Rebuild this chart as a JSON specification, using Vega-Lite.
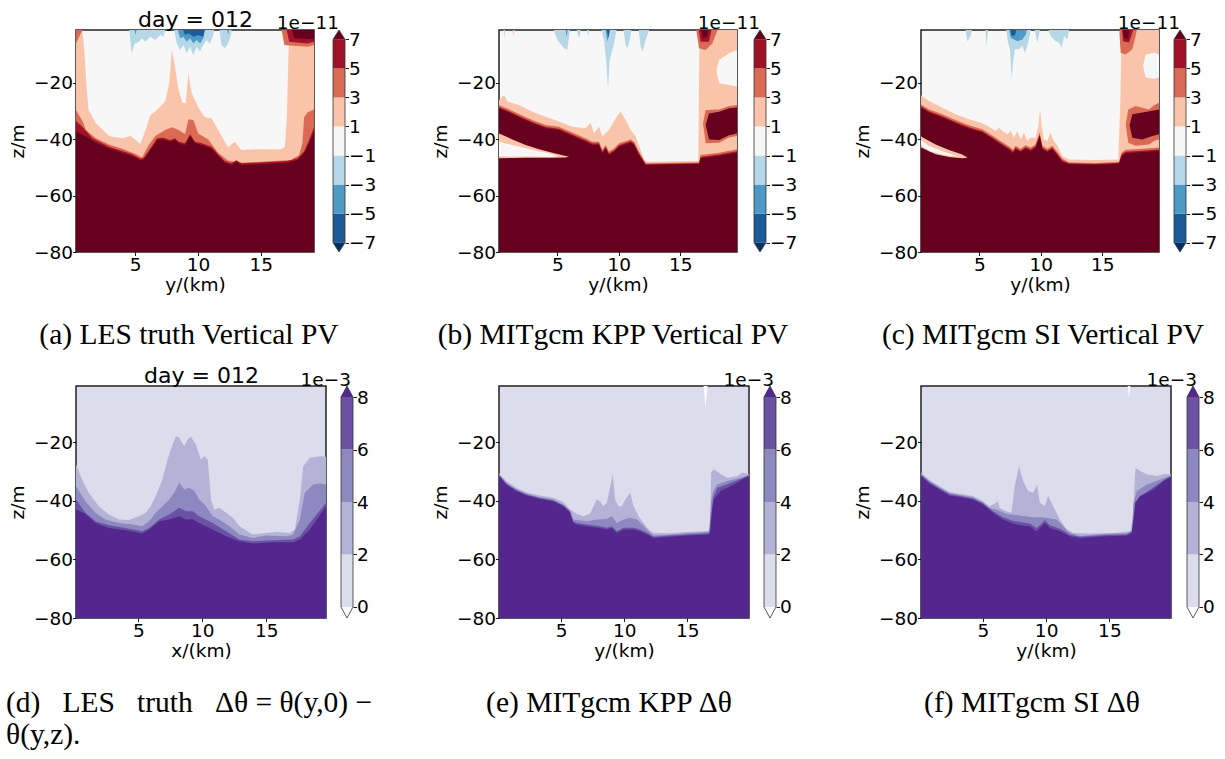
{
"$schema":"https://vega.github.io/schema/vega-lite/v6.json",
"background":"white",
"padding":{"left":5,"top":7,"right":5,"bottom":5},
"datasets":{
"A":[
{"k":"c1","x":0.29,"z":0},{"k":"c1","x":0.76,"z":0},{"k":"c1","x":0.95,"z":-8.4},{"k":"c1","x":1.13,"z":-21.4},{"k":"c1","x":1.29,"z":-29.7},{"k":"c1","x":1.87,"z":-34.4},{"k":"c1","x":2.92,"z":-38.9},{"k":"c1","x":3.97,"z":-39.7},{"k":"c1","x":4.63,"z":-38.9},{"k":"c1","x":5.03,"z":-40.3},{"k":"c1","x":5.42,"z":-41.7},{"k":"c1","x":5.82,"z":-36.8},{"k":"c1","x":6.21,"z":-31.5},{"k":"c1","x":6.74,"z":-29.7},{"k":"c1","x":7.39,"z":-26.7},{"k":"c1","x":7.71,"z":-20.2},{"k":"c1","x":7.92,"z":-8.4},{"k":"c1","x":8.13,"z":-13.2},{"k":"c1","x":8.45,"z":-22.6},{"k":"c1","x":8.76,"z":-27.1},{"k":"c1","x":9.02,"z":-27.3},{"k":"c1","x":9.24,"z":-16.7},{"k":"c1","x":9.5,"z":-23.8},{"k":"c1","x":10.02,"z":-28.7},{"k":"c1","x":10.55,"z":-32.3},{"k":"c1","x":11.08,"z":-32.6},{"k":"c1","x":11.6,"z":-36.8},{"k":"c1","x":12.39,"z":-42.9},{"k":"c1","x":12.92,"z":-40.9},{"k":"c1","x":13.45,"z":-43.9},{"k":"c1","x":14.76,"z":-43.6},{"k":"c1","x":16.6,"z":-43.6},{"k":"c1","x":16.92,"z":-42.7},{"k":"c1","x":17.08,"z":-30.9},{"k":"c1","x":17.18,"z":-13.2},{"k":"c1","x":17.26,"z":0},{"k":"c1","x":19.23,"z":0},
{"k":"c3","x":0.29,"z":-29.7},{"k":"c3","x":0.82,"z":-33.8},{"k":"c3","x":1.08,"z":-36.8},{"k":"c3","x":1.87,"z":-39.7},{"k":"c3","x":2.92,"z":-41.9},{"k":"c3","x":3.97,"z":-43.4},{"k":"c3","x":5.03,"z":-45.3},{"k":"c3","x":5.55,"z":-46.5},{"k":"c3","x":6.08,"z":-42.1},{"k":"c3","x":6.6,"z":-38.9},{"k":"c3","x":7.39,"z":-36.8},{"k":"c3","x":7.92,"z":-35.8},{"k":"c3","x":8.45,"z":-36.8},{"k":"c3","x":8.97,"z":-38.2},{"k":"c3","x":9.24,"z":-33.0},{"k":"c3","x":9.63,"z":-33.2},{"k":"c3","x":10.02,"z":-38.0},{"k":"c3","x":10.81,"z":-40.1},{"k":"c3","x":11.6,"z":-44.8},{"k":"c3","x":12.39,"z":-47.6},{"k":"c3","x":13.45,"z":-48.4},{"k":"c3","x":16.08,"z":-47.8},{"k":"c3","x":17.39,"z":-47.4},{"k":"c3","x":18.05,"z":-45.6},{"k":"c3","x":18.31,"z":-41.5},{"k":"c3","x":18.44,"z":-32.3},{"k":"c3","x":18.71,"z":-30.6},{"k":"c3","x":19.23,"z":-29.5},
{"k":"c5","x":0.29,"z":-33.5},{"k":"c5","x":0.82,"z":-35.8},{"k":"c5","x":1.61,"z":-39.7},{"k":"c5","x":2.92,"z":-42.7},{"k":"c5","x":3.97,"z":-44.2},{"k":"c5","x":4.76,"z":-45.4},{"k":"c5","x":5.42,"z":-47.0},{"k":"c5","x":5.68,"z":-46.6},{"k":"c5","x":6.21,"z":-43.3},{"k":"c5","x":6.74,"z":-39.7},{"k":"c5","x":7.26,"z":-39.5},{"k":"c5","x":7.79,"z":-40.3},{"k":"c5","x":8.18,"z":-39.7},{"k":"c5","x":8.45,"z":-40.9},{"k":"c5","x":8.97,"z":-41.5},{"k":"c5","x":9.37,"z":-38.3},{"k":"c5","x":9.76,"z":-40.9},{"k":"c5","x":10.29,"z":-41.5},{"k":"c5","x":11.08,"z":-42.7},{"k":"c5","x":11.6,"z":-45.4},{"k":"c5","x":12.13,"z":-47.8},{"k":"c5","x":12.66,"z":-48.6},{"k":"c5","x":13.05,"z":-47.5},{"k":"c5","x":13.45,"z":-48.6},{"k":"c5","x":14.5,"z":-48.4},{"k":"c5","x":16.08,"z":-48.0},{"k":"c5","x":17.13,"z":-47.8},{"k":"c5","x":17.92,"z":-46.8},{"k":"c5","x":18.44,"z":-44.4},{"k":"c5","x":18.84,"z":-40.3},{"k":"c5","x":19.23,"z":-35.8},
{"k":"c7","x":0.29,"z":-37.4},{"k":"c7","x":1.08,"z":-39.1},{"k":"c7","x":1.87,"z":-41.3},{"k":"c7","x":2.92,"z":-43.3},{"k":"c7","x":3.97,"z":-44.8},{"k":"c7","x":4.76,"z":-46.0},{"k":"c7","x":5.42,"z":-47.6},{"k":"c7","x":5.68,"z":-47.2},{"k":"c7","x":6.21,"z":-43.9},{"k":"c7","x":6.74,"z":-40.3},{"k":"c7","x":7.26,"z":-40.1},{"k":"c7","x":7.79,"z":-40.9},{"k":"c7","x":8.18,"z":-40.3},{"k":"c7","x":8.45,"z":-41.5},{"k":"c7","x":8.97,"z":-42.1},{"k":"c7","x":9.37,"z":-38.9},{"k":"c7","x":9.76,"z":-41.5},{"k":"c7","x":10.29,"z":-42.1},{"k":"c7","x":11.08,"z":-43.3},{"k":"c7","x":11.6,"z":-46.0},{"k":"c7","x":12.13,"z":-48.4},{"k":"c7","x":12.66,"z":-49.2},{"k":"c7","x":13.05,"z":-48.1},{"k":"c7","x":13.45,"z":-49.2},{"k":"c7","x":14.5,"z":-49.0},{"k":"c7","x":16.08,"z":-48.6},{"k":"c7","x":17.13,"z":-48.4},{"k":"c7","x":17.92,"z":-47.4},{"k":"c7","x":18.44,"z":-45.0},{"k":"c7","x":18.84,"z":-41.5},{"k":"c7","x":19.23,"z":-37.4},
{"k":"t3","x":0.29,"z":-6.1},{"k":"t3","x":0.95,"z":0},{"k":"t3","x":16.6,"z":0},{"k":"t3","x":16.87,"z":-6.7},{"k":"t3","x":18.71,"z":-7.3},{"k":"t3","x":19.23,"z":-6.7},
{"k":"t5","x":16.99,"z":0},{"k":"t5","x":17.26,"z":-5.5},{"k":"t5","x":18.71,"z":-6.1},{"k":"t5","x":19.23,"z":-5.5},
{"k":"t7","x":17.39,"z":0},{"k":"t7","x":17.66,"z":-4.3},{"k":"t7","x":19.23,"z":-4.6},
{"k":"tb1","x":4.5,"z":0},{"k":"tb1","x":4.71,"z":-9.6},{"k":"tb1","x":4.97,"z":-6.1},{"k":"tb1","x":5.29,"z":-5.5},{"k":"tb1","x":5.55,"z":-4.3},{"k":"tb1","x":5.82,"z":-5.5},{"k":"tb1","x":6.21,"z":-3.7},{"k":"tb1","x":6.6,"z":-4.9},{"k":"tb1","x":7.0,"z":-3.1},{"k":"tb1","x":7.26,"z":-3.7},{"k":"tb1","x":7.45,"z":0},{"k":"tb1","x":8.05,"z":0},{"k":"tb1","x":8.31,"z":-6.1},{"k":"tb1","x":8.58,"z":-8.4},{"k":"tb1","x":8.84,"z":-6.7},{"k":"tb1","x":9.1,"z":-9.6},{"k":"tb1","x":9.37,"z":-7.3},{"k":"tb1","x":9.63,"z":-10.2},{"k":"tb1","x":9.89,"z":-7.3},{"k":"tb1","x":10.16,"z":-9.0},{"k":"tb1","x":10.42,"z":-6.7},{"k":"tb1","x":10.68,"z":-4.9},{"k":"tb1","x":10.95,"z":-6.1},{"k":"tb1","x":11.21,"z":-3.1},{"k":"tb1","x":11.34,"z":0},{"k":"tb1","x":11.66,"z":0},{"k":"tb1","x":11.87,"z":-6.7},{"k":"tb1","x":12.13,"z":-7.8},{"k":"tb1","x":12.39,"z":-6.1},{"k":"tb1","x":12.6,"z":-3.7},{"k":"tb1","x":12.71,"z":0},
{"k":"tb3","x":4.89,"z":0},{"k":"tb3","x":5.03,"z":-3.1},{"k":"tb3","x":5.16,"z":0},{"k":"tb3","x":8.31,"z":0},{"k":"tb3","x":8.58,"z":-4.3},{"k":"tb3","x":8.84,"z":-3.7},{"k":"tb3","x":9.1,"z":-5.5},{"k":"tb3","x":9.37,"z":-4.3},{"k":"tb3","x":9.63,"z":-6.1},{"k":"tb3","x":9.89,"z":-4.9},{"k":"tb3","x":10.16,"z":-6.1},{"k":"tb3","x":10.42,"z":-4.3},{"k":"tb3","x":10.6,"z":0},{"k":"tb3","x":12.26,"z":0},{"k":"tb3","x":12.39,"z":-3.1},{"k":"tb3","x":12.52,"z":0},
{"k":"tb5","x":8.71,"z":0},{"k":"tb5","x":8.97,"z":-3.1},{"k":"tb5","x":9.24,"z":-2.5},{"k":"tb5","x":9.63,"z":-3.7},{"k":"tb5","x":10.02,"z":-3.1},{"k":"tb5","x":10.42,"z":-3.7},{"k":"tb5","x":10.6,"z":0}
],
"B":[
{"k":"c1","x":0.25,"z":-26.2},{"k":"c1","x":0.66,"z":-24.4},{"k":"c1","x":0.93,"z":-26.7},{"k":"c1","x":1.88,"z":-27.9},{"k":"c1","x":2.96,"z":-30.3},{"k":"c1","x":4.05,"z":-32.1},{"k":"c1","x":5.13,"z":-33.8},{"k":"c1","x":6.22,"z":-35.6},{"k":"c1","x":7.3,"z":-36.2},{"k":"c1","x":7.71,"z":-34.2},{"k":"c1","x":7.98,"z":-38.0},{"k":"c1","x":8.39,"z":-35.6},{"k":"c1","x":8.66,"z":-39.1},{"k":"c1","x":9.2,"z":-36.8},{"k":"c1","x":9.75,"z":-32.6},{"k":"c1","x":10.15,"z":-30.3},{"k":"c1","x":10.56,"z":-33.2},{"k":"c1","x":10.97,"z":-36.8},{"k":"c1","x":11.37,"z":-39.1},{"k":"c1","x":11.78,"z":-43.9},{"k":"c1","x":12.05,"z":-47.4},{"k":"c1","x":12.32,"z":-48.0},{"k":"c1","x":16.47,"z":-47.8},{"k":"c1","x":16.53,"z":-19.1},{"k":"c1","x":16.58,"z":0},{"k":"c1","x":19.62,"z":0},
{"k":"c3","x":0.25,"z":-27.9},{"k":"c3","x":1.06,"z":-29.4},{"k":"c3","x":1.88,"z":-31.1},{"k":"c3","x":2.96,"z":-33.2},{"k":"c3","x":4.05,"z":-35.0},{"k":"c3","x":5.13,"z":-35.6},{"k":"c3","x":6.22,"z":-37.7},{"k":"c3","x":7.3,"z":-39.7},{"k":"c3","x":7.85,"z":-40.9},{"k":"c3","x":8.39,"z":-40.9},{"k":"c3","x":8.66,"z":-43.8},{"k":"c3","x":8.93,"z":-42.1},{"k":"c3","x":9.2,"z":-44.4},{"k":"c3","x":9.61,"z":-43.3},{"k":"c3","x":10.02,"z":-41.5},{"k":"c3","x":10.42,"z":-40.9},{"k":"c3","x":10.97,"z":-40.1},{"k":"c3","x":11.24,"z":-40.9},{"k":"c3","x":11.64,"z":-44.4},{"k":"c3","x":12.19,"z":-48.6},{"k":"c3","x":16.53,"z":-48.3},{"k":"c3","x":16.66,"z":-45.6},{"k":"c3","x":18.16,"z":-44.8},{"k":"c3","x":19.62,"z":-43.6},
{"k":"c5","x":0.25,"z":-28.6},{"k":"c5","x":1.06,"z":-30.1},{"k":"c5","x":1.88,"z":-31.8},{"k":"c5","x":2.96,"z":-33.9},{"k":"c5","x":4.05,"z":-35.7},{"k":"c5","x":5.13,"z":-36.3},{"k":"c5","x":6.22,"z":-38.4},{"k":"c5","x":7.3,"z":-40.4},{"k":"c5","x":7.85,"z":-41.6},{"k":"c5","x":8.39,"z":-41.6},{"k":"c5","x":8.66,"z":-44.5},{"k":"c5","x":8.93,"z":-42.8},{"k":"c5","x":9.2,"z":-45.1},{"k":"c5","x":9.61,"z":-44.0},{"k":"c5","x":10.02,"z":-42.2},{"k":"c5","x":10.42,"z":-41.6},{"k":"c5","x":10.97,"z":-40.8},{"k":"c5","x":11.24,"z":-41.6},{"k":"c5","x":11.64,"z":-45.1},{"k":"c5","x":12.19,"z":-48.9},{"k":"c5","x":16.53,"z":-48.6},{"k":"c5","x":16.66,"z":-46.3},{"k":"c5","x":18.16,"z":-45.5},{"k":"c5","x":19.62,"z":-44.3},
{"k":"c7","x":0.25,"z":-29.1},{"k":"c7","x":1.06,"z":-30.6},{"k":"c7","x":1.88,"z":-32.3},{"k":"c7","x":2.96,"z":-34.4},{"k":"c7","x":4.05,"z":-36.2},{"k":"c7","x":5.13,"z":-36.8},{"k":"c7","x":6.22,"z":-38.9},{"k":"c7","x":7.3,"z":-40.9},{"k":"c7","x":7.85,"z":-42.1},{"k":"c7","x":8.39,"z":-42.1},{"k":"c7","x":8.66,"z":-45.0},{"k":"c7","x":8.93,"z":-43.3},{"k":"c7","x":9.2,"z":-45.6},{"k":"c7","x":9.61,"z":-44.5},{"k":"c7","x":10.02,"z":-42.7},{"k":"c7","x":10.42,"z":-42.1},{"k":"c7","x":10.97,"z":-41.3},{"k":"c7","x":11.24,"z":-42.1},{"k":"c7","x":11.64,"z":-45.6},{"k":"c7","x":12.19,"z":-49.2},{"k":"c7","x":16.53,"z":-48.8},{"k":"c7","x":16.66,"z":-46.8},{"k":"c7","x":18.16,"z":-46.0},{"k":"c7","x":19.62,"z":-44.8},
{"k":"L1","x":0.25,"z":-46.8,"z2":-38.0},{"k":"L1","x":1.34,"z":-46.7,"z2":-40.1},{"k":"L1","x":2.42,"z":-46.6,"z2":-42.1},{"k":"L1","x":3.51,"z":-46.6,"z2":-43.6},{"k":"L1","x":4.59,"z":-46.6,"z2":-44.8},{"k":"L1","x":5.68,"z":-46.5,"z2":-46.0},{"k":"L1","x":5.95,"z":-46.2,"z2":-46.2},
{"k":"W","x":0.25,"z":-46.0,"z2":-40.9},{"k":"W","x":1.34,"z":-46.2,"z2":-42.1},{"k":"W","x":2.96,"z":-46.2,"z2":-43.9},{"k":"W","x":4.32,"z":-46.3,"z2":-45.0},{"k":"W","x":5.0,"z":-46.1,"z2":-46.0},
{"k":"R3","x":16.85,"z":-34.4,"z2":-34.4},{"k":"R3","x":17.07,"z":-41.5,"z2":-29.7},{"k":"R3","x":18.16,"z":-41.3,"z2":-29.5},{"k":"R3","x":18.97,"z":-39.4,"z2":-28.3},{"k":"R3","x":19.62,"z":-38.9,"z2":-27.9},
{"k":"R7","x":17.07,"z":-35.0,"z2":-35.0},{"k":"R7","x":17.34,"z":-40.1,"z2":-30.9},{"k":"R7","x":18.16,"z":-40.3,"z2":-30.3},{"k":"R7","x":18.97,"z":-38.6,"z2":-29.1},{"k":"R7","x":19.62,"z":-38.0,"z2":-28.8},
{"k":"W2","x":17.94,"z":-15.5,"z2":-15.5},{"k":"W2","x":18.16,"z":-20.2,"z2":-12.0},{"k":"W2","x":18.97,"z":-20.8,"z2":-9.6},{"k":"W2","x":19.62,"z":-21.4,"z2":-8.4},
{"k":"t1","x":0.58,"z":0},{"k":"t1","x":0.68,"z":-4.3},{"k":"t1","x":0.79,"z":0},{"k":"t1","x":1.34,"z":0},{"k":"t1","x":1.44,"z":-3.7},{"k":"t1","x":1.55,"z":0},
{"k":"t3","x":16.26,"z":0},{"k":"t3","x":16.53,"z":-7.8},{"k":"t3","x":17.07,"z":-8.4},{"k":"t3","x":17.61,"z":-6.1},{"k":"t3","x":18.16,"z":0},
{"k":"t5","x":16.47,"z":0},{"k":"t5","x":16.66,"z":-5.5},{"k":"t5","x":17.34,"z":-5.5},{"k":"t5","x":17.61,"z":0},
{"k":"t7","x":16.66,"z":0},{"k":"t7","x":16.85,"z":-4.3},{"k":"t7","x":17.21,"z":-3.7},{"k":"t7","x":17.34,"z":0},
{"k":"tb1","x":4.59,"z":0},{"k":"tb1","x":5.0,"z":-4.9},{"k":"tb1","x":5.54,"z":-7.8},{"k":"tb1","x":5.81,"z":-8.4},{"k":"tb1","x":6.08,"z":0},{"k":"tb1","x":6.49,"z":0},{"k":"tb1","x":6.76,"z":-4.3},{"k":"tb1","x":6.98,"z":0},{"k":"tb1","x":7.36,"z":0},{"k":"tb1","x":7.52,"z":-3.7},{"k":"tb1","x":7.63,"z":0},{"k":"tb1","x":8.52,"z":0},{"k":"tb1","x":8.8,"z":-4.9},{"k":"tb1","x":8.99,"z":-13.2},{"k":"tb1","x":9.12,"z":-22.0},{"k":"tb1","x":9.26,"z":-12.0},{"k":"tb1","x":9.61,"z":-6.1},{"k":"tb1","x":9.88,"z":0},{"k":"tb1","x":10.34,"z":0},{"k":"tb1","x":10.56,"z":-6.7},{"k":"tb1","x":10.7,"z":-7.8},{"k":"tb1","x":10.88,"z":-4.9},{"k":"tb1","x":11.1,"z":0},{"k":"tb1","x":11.59,"z":0},{"k":"tb1","x":11.78,"z":-7.3},{"k":"tb1","x":11.92,"z":-9.0},{"k":"tb1","x":12.19,"z":-4.9},{"k":"tb1","x":12.59,"z":0},
{"k":"tb3","x":5.62,"z":0},{"k":"tb3","x":5.76,"z":-3.7},{"k":"tb3","x":5.89,"z":0},{"k":"tb3","x":8.88,"z":0},{"k":"tb3","x":9.07,"z":-5.5},{"k":"tb3","x":9.34,"z":0},
{"k":"tb5","x":8.99,"z":0},{"k":"tb5","x":9.15,"z":-4.3},{"k":"tb5","x":9.31,"z":0}
],
"C":[
{"k":"c1","x":0.25,"z":-24.5},{"k":"c1","x":0.9,"z":-26.5},{"k":"c1","x":1.99,"z":-28.9},{"k":"c1","x":3.07,"z":-31.2},{"k":"c1","x":4.16,"z":-33.0},{"k":"c1","x":5.24,"z":-34.4},{"k":"c1","x":5.78,"z":-35.6},{"k":"c1","x":6.33,"z":-37.1},{"k":"c1","x":6.6,"z":-36.0},{"k":"c1","x":6.87,"z":-37.1},{"k":"c1","x":7.28,"z":-38.3},{"k":"c1","x":7.55,"z":-37.1},{"k":"c1","x":7.82,"z":-39.5},{"k":"c1","x":8.09,"z":-37.1},{"k":"c1","x":8.36,"z":-40.1},{"k":"c1","x":8.63,"z":-37.7},{"k":"c1","x":8.9,"z":-40.7},{"k":"c1","x":9.18,"z":-39.5},{"k":"c1","x":9.58,"z":-39.5},{"k":"c1","x":9.8,"z":-35.4},{"k":"c1","x":9.94,"z":-29.5},{"k":"c1","x":10.07,"z":-35.4},{"k":"c1","x":10.26,"z":-40.1},{"k":"c1","x":10.53,"z":-40.7},{"k":"c1","x":10.8,"z":-37.7},{"k":"c1","x":10.99,"z":-40.1},{"k":"c1","x":11.35,"z":-42.4},{"k":"c1","x":11.75,"z":-46.0},{"k":"c1","x":12.3,"z":-47.2},{"k":"c1","x":14.47,"z":-47.4},{"k":"c1","x":16.31,"z":-47.2},{"k":"c1","x":16.48,"z":-25.9},{"k":"c1","x":16.58,"z":0},{"k":"c1","x":19.62,"z":0},
{"k":"c3","x":0.25,"z":-27.7},{"k":"c3","x":0.9,"z":-29.4},{"k":"c3","x":1.99,"z":-31.2},{"k":"c3","x":3.07,"z":-33.2},{"k":"c3","x":4.16,"z":-35.1},{"k":"c3","x":5.24,"z":-36.5},{"k":"c3","x":6.06,"z":-38.7},{"k":"c3","x":6.6,"z":-40.3},{"k":"c3","x":7.14,"z":-41.8},{"k":"c3","x":7.55,"z":-43.0},{"k":"c3","x":7.74,"z":-43.8},{"k":"c3","x":7.95,"z":-42.4},{"k":"c3","x":8.36,"z":-43.4},{"k":"c3","x":8.77,"z":-42.2},{"k":"c3","x":9.18,"z":-43.0},{"k":"c3","x":9.58,"z":-41.8},{"k":"c3","x":9.91,"z":-37.7},{"k":"c3","x":10.13,"z":-42.4},{"k":"c3","x":10.53,"z":-43.4},{"k":"c3","x":10.94,"z":-42.4},{"k":"c3","x":11.35,"z":-44.6},{"k":"c3","x":11.75,"z":-46.9},{"k":"c3","x":12.3,"z":-48.3},{"k":"c3","x":14.47,"z":-48.5},{"k":"c3","x":16.37,"z":-48.1},{"k":"c3","x":16.58,"z":-44.8},{"k":"c3","x":16.91,"z":-43.8},{"k":"c3","x":18.26,"z":-43.4},{"k":"c3","x":19.62,"z":-43.0},
{"k":"c5","x":0.25,"z":-28.4},{"k":"c5","x":0.9,"z":-30.1},{"k":"c5","x":1.99,"z":-31.9},{"k":"c5","x":3.07,"z":-33.9},{"k":"c5","x":4.16,"z":-35.8},{"k":"c5","x":5.24,"z":-37.2},{"k":"c5","x":6.06,"z":-39.4},{"k":"c5","x":6.6,"z":-41.0},{"k":"c5","x":7.14,"z":-42.5},{"k":"c5","x":7.55,"z":-43.7},{"k":"c5","x":7.74,"z":-44.5},{"k":"c5","x":7.95,"z":-43.1},{"k":"c5","x":8.36,"z":-44.1},{"k":"c5","x":8.77,"z":-42.9},{"k":"c5","x":9.18,"z":-43.7},{"k":"c5","x":9.58,"z":-42.5},{"k":"c5","x":9.91,"z":-38.4},{"k":"c5","x":10.13,"z":-43.1},{"k":"c5","x":10.53,"z":-44.1},{"k":"c5","x":10.94,"z":-43.1},{"k":"c5","x":11.35,"z":-45.3},{"k":"c5","x":11.75,"z":-47.6},{"k":"c5","x":12.3,"z":-48.6},{"k":"c5","x":14.47,"z":-48.8},{"k":"c5","x":16.37,"z":-48.4},{"k":"c5","x":16.58,"z":-45.5},{"k":"c5","x":16.91,"z":-44.5},{"k":"c5","x":18.26,"z":-44.1},{"k":"c5","x":19.62,"z":-43.7},
{"k":"c7","x":0.25,"z":-28.9},{"k":"c7","x":0.9,"z":-30.6},{"k":"c7","x":1.99,"z":-32.4},{"k":"c7","x":3.07,"z":-34.4},{"k":"c7","x":4.16,"z":-36.3},{"k":"c7","x":5.24,"z":-37.7},{"k":"c7","x":6.06,"z":-39.9},{"k":"c7","x":6.6,"z":-41.5},{"k":"c7","x":7.14,"z":-43.0},{"k":"c7","x":7.55,"z":-44.2},{"k":"c7","x":7.74,"z":-45.0},{"k":"c7","x":7.95,"z":-43.6},{"k":"c7","x":8.36,"z":-44.6},{"k":"c7","x":8.77,"z":-43.4},{"k":"c7","x":9.18,"z":-44.2},{"k":"c7","x":9.58,"z":-43.0},{"k":"c7","x":9.91,"z":-38.9},{"k":"c7","x":10.13,"z":-43.6},{"k":"c7","x":10.53,"z":-44.6},{"k":"c7","x":10.94,"z":-43.6},{"k":"c7","x":11.35,"z":-45.8},{"k":"c7","x":11.75,"z":-48.1},{"k":"c7","x":12.3,"z":-48.9},{"k":"c7","x":14.47,"z":-49.1},{"k":"c7","x":16.37,"z":-48.7},{"k":"c7","x":16.58,"z":-46.0},{"k":"c7","x":16.91,"z":-45.0},{"k":"c7","x":18.26,"z":-44.6},{"k":"c7","x":19.62,"z":-44.2},
{"k":"L1","x":0.25,"z":-43.0,"z2":-39.1},{"k":"L1","x":1.44,"z":-45.4,"z2":-41.9},{"k":"L1","x":2.53,"z":-46.3,"z2":-43.9},{"k":"L1","x":3.61,"z":-46.8,"z2":-45.5},{"k":"L1","x":4.02,"z":-46.6,"z2":-46.5},
{"k":"W","x":0.25,"z":-42.2,"z2":-40.3},{"k":"W","x":0.9,"z":-44.2,"z2":-42.4},{"k":"W","x":1.99,"z":-45.5,"z2":-44.3},{"k":"W","x":2.8,"z":-46.1,"z2":-45.5},{"k":"W","x":3.21,"z":-46.1,"z2":-46.0},
{"k":"R3","x":16.91,"z":-34.8,"z2":-34.8},{"k":"R3","x":17.12,"z":-41.3,"z2":-29.5},{"k":"R3","x":17.72,"z":-42.4,"z2":-28.3},{"k":"R3","x":18.81,"z":-41.9,"z2":-29.5},{"k":"R3","x":19.21,"z":-40.7,"z2":-28.0},{"k":"R3","x":19.62,"z":-40.1,"z2":-27.1},
{"k":"R7","x":17.23,"z":-35.1,"z2":-35.1},{"k":"R7","x":17.45,"z":-39.5,"z2":-31.2},{"k":"R7","x":18.26,"z":-40.1,"z2":-30.6},{"k":"R7","x":19.08,"z":-38.9,"z2":-30.0},{"k":"R7","x":19.62,"z":-38.3,"z2":-29.5},
{"k":"W2","x":18.32,"z":-14.0,"z2":-14.0},{"k":"W2","x":18.54,"z":-18.2,"z2":-10.0},{"k":"W2","x":19.21,"z":-18.6,"z2":-9.4},{"k":"W2","x":19.62,"z":-18.2,"z2":-10.0},
{"k":"t3","x":16.37,"z":0},{"k":"t3","x":16.5,"z":-9.4},{"k":"t3","x":16.91,"z":-10.0},{"k":"t3","x":17.45,"z":-8.2},{"k":"t3","x":17.72,"z":-3.5},{"k":"t3","x":17.86,"z":0},
{"k":"t5","x":16.58,"z":0},{"k":"t5","x":16.69,"z":-5.3},{"k":"t5","x":17.18,"z":-5.8},{"k":"t5","x":17.45,"z":-2.3},{"k":"t5","x":17.59,"z":0},
{"k":"t7","x":16.64,"z":0},{"k":"t7","x":16.77,"z":-4.1},{"k":"t7","x":17.12,"z":-4.7},{"k":"t7","x":17.23,"z":0},
{"k":"tb1","x":3.83,"z":0},{"k":"tb1","x":4.02,"z":-5.3},{"k":"tb1","x":4.29,"z":-3.5},{"k":"tb1","x":4.48,"z":0},{"k":"tb1","x":5.46,"z":0},{"k":"tb1","x":5.59,"z":-7.0},{"k":"tb1","x":5.73,"z":0},{"k":"tb1","x":7.14,"z":0},{"k":"tb1","x":7.33,"z":-5.8},{"k":"tb1","x":7.49,"z":-8.2},{"k":"tb1","x":7.63,"z":-18.8},{"k":"tb1","x":7.77,"z":-11.7},{"k":"tb1","x":7.9,"z":-8.2},{"k":"tb1","x":8.23,"z":-8.2},{"k":"tb1","x":8.5,"z":-7.0},{"k":"tb1","x":8.71,"z":-9.4},{"k":"tb1","x":8.9,"z":-7.0},{"k":"tb1","x":9.09,"z":-3.5},{"k":"tb1","x":9.26,"z":0},{"k":"tb1","x":9.45,"z":0},{"k":"tb1","x":9.72,"z":-5.8},{"k":"tb1","x":9.99,"z":0},{"k":"tb1","x":10.53,"z":0},{"k":"tb1","x":10.8,"z":-3.5},{"k":"tb1","x":11.21,"z":-5.3},{"k":"tb1","x":11.48,"z":-5.8},{"k":"tb1","x":11.7,"z":-7.6},{"k":"tb1","x":11.89,"z":-3.5},{"k":"tb1","x":12.16,"z":-4.7},{"k":"tb1","x":12.35,"z":0},
{"k":"tb3","x":7.36,"z":0},{"k":"tb3","x":7.55,"z":-4.1},{"k":"tb3","x":7.82,"z":-4.7},{"k":"tb3","x":8.09,"z":-5.3},{"k":"tb3","x":8.5,"z":-4.7},{"k":"tb3","x":8.77,"z":-2.9},{"k":"tb3","x":8.93,"z":0},
{"k":"tb5","x":7.47,"z":0},{"k":"tb5","x":7.63,"z":-3.5},{"k":"tb5","x":7.9,"z":-3.2},{"k":"tb5","x":8.09,"z":0}
],
"D":[
{"k":"c2","x":0.13,"z":-27.6},{"k":"c2","x":0.6,"z":-32.8},{"k":"c2","x":1.12,"z":-37.3},{"k":"c2","x":1.91,"z":-41.9},{"k":"c2","x":2.7,"z":-44.7},{"k":"c2","x":3.48,"z":-46.4},{"k":"c2","x":4.27,"z":-46.6},{"k":"c2","x":5.05,"z":-45.3},{"k":"c2","x":5.58,"z":-44.1},{"k":"c2","x":5.97,"z":-41.9},{"k":"c2","x":6.36,"z":-38.4},{"k":"c2","x":6.88,"z":-32.8},{"k":"c2","x":7.28,"z":-25.9},{"k":"c2","x":7.67,"z":-20.8},{"k":"c2","x":7.93,"z":-18.0},{"k":"c2","x":8.19,"z":-18.5},{"k":"c2","x":8.59,"z":-21.4},{"k":"c2","x":8.85,"z":-19.1},{"k":"c2","x":9.11,"z":-18.2},{"k":"c2","x":9.5,"z":-20.8},{"k":"c2","x":9.89,"z":-25.9},{"k":"c2","x":10.16,"z":-24.8},{"k":"c2","x":10.42,"z":-25.9},{"k":"c2","x":10.68,"z":-39.6},{"k":"c2","x":10.94,"z":-43.0},{"k":"c2","x":11.33,"z":-42.4},{"k":"c2","x":11.86,"z":-44.1},{"k":"c2","x":12.38,"z":-45.8},{"k":"c2","x":12.91,"z":-48.7},{"k":"c2","x":13.3,"z":-49.8},{"k":"c2","x":13.95,"z":-51.5},{"k":"c2","x":15.0,"z":-51.0},{"k":"c2","x":15.79,"z":-50.7},{"k":"c2","x":16.83,"z":-51.0},{"k":"c2","x":17.23,"z":-49.8},{"k":"c2","x":17.62,"z":-39.6},{"k":"c2","x":17.88,"z":-28.2},{"k":"c2","x":18.4,"z":-25.3},{"k":"c2","x":19.19,"z":-24.8},{"k":"c2","x":19.66,"z":-25.0},
{"k":"c4","x":0.13,"z":-35.0},{"k":"c4","x":0.86,"z":-40.2},{"k":"c4","x":1.65,"z":-44.1},{"k":"c4","x":2.43,"z":-46.4},{"k":"c4","x":3.48,"z":-47.6},{"k":"c4","x":4.53,"z":-48.1},{"k":"c4","x":5.31,"z":-48.7},{"k":"c4","x":5.84,"z":-47.0},{"k":"c4","x":6.36,"z":-44.1},{"k":"c4","x":6.88,"z":-41.9},{"k":"c4","x":7.41,"z":-39.6},{"k":"c4","x":7.8,"z":-37.3},{"k":"c4","x":8.19,"z":-33.9},{"k":"c4","x":8.59,"z":-36.2},{"k":"c4","x":8.98,"z":-35.6},{"k":"c4","x":9.37,"z":-36.7},{"k":"c4","x":9.76,"z":-39.6},{"k":"c4","x":10.29,"z":-41.9},{"k":"c4","x":10.81,"z":-45.3},{"k":"c4","x":11.33,"z":-46.4},{"k":"c4","x":12.12,"z":-48.7},{"k":"c4","x":12.91,"z":-51.5},{"k":"c4","x":13.95,"z":-52.7},{"k":"c4","x":15.0,"z":-51.9},{"k":"c4","x":16.57,"z":-52.1},{"k":"c4","x":17.09,"z":-51.5},{"k":"c4","x":17.62,"z":-46.4},{"k":"c4","x":18.01,"z":-37.3},{"k":"c4","x":18.66,"z":-34.5},{"k":"c4","x":19.19,"z":-34.1},{"k":"c4","x":19.66,"z":-34.5},
{"k":"c6","x":0.13,"z":-39.6},{"k":"c6","x":0.86,"z":-44.1},{"k":"c6","x":1.65,"z":-47.0},{"k":"c6","x":2.7,"z":-48.4},{"k":"c6","x":4.0,"z":-49.3},{"k":"c6","x":5.31,"z":-50.4},{"k":"c6","x":5.84,"z":-49.3},{"k":"c6","x":6.62,"z":-46.4},{"k":"c6","x":7.41,"z":-44.7},{"k":"c6","x":8.19,"z":-42.4},{"k":"c6","x":8.72,"z":-43.6},{"k":"c6","x":9.24,"z":-43.6},{"k":"c6","x":9.76,"z":-45.3},{"k":"c6","x":10.81,"z":-47.6},{"k":"c6","x":11.86,"z":-50.4},{"k":"c6","x":12.91,"z":-53.2},{"k":"c6","x":13.95,"z":-53.8},{"k":"c6","x":15.52,"z":-53.5},{"k":"c6","x":17.09,"z":-53.2},{"k":"c6","x":17.62,"z":-52.1},{"k":"c6","x":18.4,"z":-47.6},{"k":"c6","x":19.66,"z":-40.7},
{"k":"c8","x":0.13,"z":-43.0},{"k":"c8","x":0.86,"z":-44.4},{"k":"c8","x":1.65,"z":-47.6},{"k":"c8","x":2.7,"z":-49.3},{"k":"c8","x":4.0,"z":-50.1},{"k":"c8","x":5.31,"z":-51.2},{"k":"c8","x":5.84,"z":-49.8},{"k":"c8","x":6.62,"z":-47.0},{"k":"c8","x":7.41,"z":-46.4},{"k":"c8","x":8.19,"z":-45.3},{"k":"c8","x":8.72,"z":-46.4},{"k":"c8","x":9.24,"z":-46.2},{"k":"c8","x":9.76,"z":-47.6},{"k":"c8","x":10.81,"z":-49.8},{"k":"c8","x":11.86,"z":-52.1},{"k":"c8","x":12.91,"z":-53.8},{"k":"c8","x":13.95,"z":-54.6},{"k":"c8","x":15.52,"z":-54.2},{"k":"c8","x":17.09,"z":-54.2},{"k":"c8","x":17.62,"z":-53.2},{"k":"c8","x":18.4,"z":-49.8},{"k":"c8","x":19.66,"z":-41.9}
],
"E":[
{"k":"c2","x":0.07,"z":-30.6},{"k":"c2","x":0.65,"z":-33.3},{"k":"c2","x":1.45,"z":-35.6},{"k":"c2","x":2.25,"z":-37.1},{"k":"c2","x":3.31,"z":-38.2},{"k":"c2","x":4.37,"z":-39.0},{"k":"c2","x":5.17,"z":-40.4},{"k":"c2","x":5.7,"z":-43.0},{"k":"c2","x":6.23,"z":-44.4},{"k":"c2","x":6.76,"z":-45.3},{"k":"c2","x":7.29,"z":-44.4},{"k":"c2","x":7.82,"z":-39.6},{"k":"c2","x":8.09,"z":-40.2},{"k":"c2","x":8.35,"z":-41.9},{"k":"c2","x":8.62,"z":-40.7},{"k":"c2","x":9.1,"z":-31.0},{"k":"c2","x":9.28,"z":-39.6},{"k":"c2","x":9.55,"z":-41.9},{"k":"c2","x":9.81,"z":-41.9},{"k":"c2","x":10.08,"z":-39.6},{"k":"c2","x":10.48,"z":-37.3},{"k":"c2","x":10.74,"z":-41.9},{"k":"c2","x":11.14,"z":-45.3},{"k":"c2","x":11.54,"z":-47.6},{"k":"c2","x":11.94,"z":-49.8},{"k":"c2","x":12.34,"z":-51.0},{"k":"c2","x":13.66,"z":-51.1},{"k":"c2","x":14.99,"z":-50.7},{"k":"c2","x":16.58,"z":-50.3},{"k":"c2","x":16.8,"z":-49.8},{"k":"c2","x":16.9,"z":-30.4},{"k":"c2","x":17.11,"z":-29.3},{"k":"c2","x":17.65,"z":-30.9},{"k":"c2","x":18.18,"z":-32.2},{"k":"c2","x":18.97,"z":-31.6},{"k":"c2","x":19.37,"z":-30.4},{"k":"c2","x":19.9,"z":-31.0},
{"k":"c4","x":0.07,"z":-31.0},{"k":"c4","x":0.65,"z":-33.9},{"k":"c4","x":1.45,"z":-36.1},{"k":"c4","x":2.25,"z":-37.6},{"k":"c4","x":3.31,"z":-38.8},{"k":"c4","x":4.37,"z":-39.6},{"k":"c4","x":5.17,"z":-41.3},{"k":"c4","x":5.7,"z":-43.3},{"k":"c4","x":5.96,"z":-46.4},{"k":"c4","x":7.03,"z":-47.0},{"k":"c4","x":7.82,"z":-46.4},{"k":"c4","x":8.62,"z":-46.2},{"k":"c4","x":9.02,"z":-45.3},{"k":"c4","x":9.42,"z":-47.6},{"k":"c4","x":9.95,"z":-46.4},{"k":"c4","x":10.48,"z":-45.8},{"k":"c4","x":11.01,"z":-46.4},{"k":"c4","x":11.54,"z":-48.7},{"k":"c4","x":12.07,"z":-51.0},{"k":"c4","x":12.34,"z":-51.9},{"k":"c4","x":13.66,"z":-51.5},{"k":"c4","x":14.99,"z":-51.1},{"k":"c4","x":16.74,"z":-50.7},{"k":"c4","x":16.9,"z":-40.2},{"k":"c4","x":17.06,"z":-36.7},{"k":"c4","x":17.38,"z":-34.5},{"k":"c4","x":18.18,"z":-33.3},{"k":"c4","x":19.24,"z":-32.2},{"k":"c4","x":19.9,"z":-31.2},
{"k":"c6","x":0.07,"z":-31.3},{"k":"c6","x":0.65,"z":-34.2},{"k":"c6","x":1.45,"z":-36.4},{"k":"c6","x":2.25,"z":-37.9},{"k":"c6","x":3.31,"z":-39.1},{"k":"c6","x":4.37,"z":-39.9},{"k":"c6","x":5.17,"z":-41.6},{"k":"c6","x":5.7,"z":-43.6},{"k":"c6","x":5.96,"z":-47.0},{"k":"c6","x":6.23,"z":-47.6},{"k":"c6","x":7.03,"z":-48.1},{"k":"c6","x":8.09,"z":-48.7},{"k":"c6","x":8.62,"z":-49.2},{"k":"c6","x":9.02,"z":-48.7},{"k":"c6","x":9.42,"z":-50.4},{"k":"c6","x":9.95,"z":-49.2},{"k":"c6","x":10.74,"z":-49.2},{"k":"c6","x":11.27,"z":-49.8},{"k":"c6","x":11.8,"z":-50.9},{"k":"c6","x":12.34,"z":-52.3},{"k":"c6","x":13.66,"z":-51.9},{"k":"c6","x":14.99,"z":-51.5},{"k":"c6","x":16.74,"z":-51.1},{"k":"c6","x":16.95,"z":-43.0},{"k":"c6","x":17.06,"z":-39.0},{"k":"c6","x":17.38,"z":-35.6},{"k":"c6","x":18.18,"z":-34.4},{"k":"c6","x":19.24,"z":-32.6},{"k":"c6","x":19.9,"z":-31.4},
{"k":"c8","x":0.07,"z":-31.6},{"k":"c8","x":0.65,"z":-34.5},{"k":"c8","x":1.45,"z":-36.7},{"k":"c8","x":2.25,"z":-38.2},{"k":"c8","x":3.31,"z":-39.4},{"k":"c8","x":4.37,"z":-40.2},{"k":"c8","x":5.17,"z":-41.9},{"k":"c8","x":5.7,"z":-44.1},{"k":"c8","x":5.96,"z":-47.6},{"k":"c8","x":6.23,"z":-48.1},{"k":"c8","x":7.03,"z":-48.7},{"k":"c8","x":8.09,"z":-49.3},{"k":"c8","x":8.62,"z":-49.8},{"k":"c8","x":9.02,"z":-49.3},{"k":"c8","x":9.42,"z":-51.0},{"k":"c8","x":9.95,"z":-49.8},{"k":"c8","x":10.74,"z":-49.8},{"k":"c8","x":11.27,"z":-50.4},{"k":"c8","x":11.8,"z":-51.5},{"k":"c8","x":12.34,"z":-52.7},{"k":"c8","x":13.66,"z":-52.3},{"k":"c8","x":14.99,"z":-51.9},{"k":"c8","x":16.74,"z":-51.5},{"k":"c8","x":16.85,"z":-49.8},{"k":"c8","x":16.98,"z":-43.0},{"k":"c8","x":17.11,"z":-39.6},{"k":"c8","x":17.65,"z":-36.7},{"k":"c8","x":18.71,"z":-34.5},{"k":"c8","x":19.37,"z":-32.8},{"k":"c8","x":19.9,"z":-31.6},
{"k":"tw","x":16.27,"z":0},{"k":"tw","x":16.45,"z":-8.3},{"k":"tw","x":16.64,"z":0}
],
"F":[
{"k":"c2","x":0.11,"z":-30.4},{"k":"c2","x":0.77,"z":-32.9},{"k":"c2","x":1.56,"z":-35.0},{"k":"c2","x":2.36,"z":-37.0},{"k":"c2","x":3.42,"z":-37.8},{"k":"c2","x":4.21,"z":-38.4},{"k":"c2","x":5.0,"z":-40.1},{"k":"c2","x":5.53,"z":-41.9},{"k":"c2","x":6.06,"z":-40.7},{"k":"c2","x":6.19,"z":-40.2},{"k":"c2","x":6.33,"z":-42.4},{"k":"c2","x":6.86,"z":-43.6},{"k":"c2","x":7.25,"z":-44.1},{"k":"c2","x":7.52,"z":-35.0},{"k":"c2","x":7.86,"z":-28.2},{"k":"c2","x":8.18,"z":-33.3},{"k":"c2","x":8.57,"z":-36.7},{"k":"c2","x":8.97,"z":-37.3},{"k":"c2","x":9.29,"z":-34.5},{"k":"c2","x":9.5,"z":-40.7},{"k":"c2","x":9.9,"z":-41.9},{"k":"c2","x":10.16,"z":-38.2},{"k":"c2","x":10.56,"z":-41.9},{"k":"c2","x":11.09,"z":-46.4},{"k":"c2","x":11.62,"z":-49.8},{"k":"c2","x":12.15,"z":-51.0},{"k":"c2","x":13.47,"z":-51.2},{"k":"c2","x":15.32,"z":-51.0},{"k":"c2","x":16.64,"z":-50.4},{"k":"c2","x":16.85,"z":-46.4},{"k":"c2","x":17.06,"z":-28.8},{"k":"c2","x":17.43,"z":-29.9},{"k":"c2","x":17.96,"z":-31.0},{"k":"c2","x":18.76,"z":-31.6},{"k":"c2","x":19.29,"z":-31.0},{"k":"c2","x":19.87,"z":-31.0},
{"k":"c4","x":0.11,"z":-30.8},{"k":"c4","x":0.77,"z":-33.3},{"k":"c4","x":1.56,"z":-35.4},{"k":"c4","x":2.36,"z":-37.4},{"k":"c4","x":3.42,"z":-38.2},{"k":"c4","x":4.21,"z":-38.8},{"k":"c4","x":5.0,"z":-40.5},{"k":"c4","x":5.53,"z":-42.6},{"k":"c4","x":6.06,"z":-43.0},{"k":"c4","x":6.86,"z":-44.4},{"k":"c4","x":7.91,"z":-45.0},{"k":"c4","x":8.97,"z":-45.6},{"k":"c4","x":9.76,"z":-45.6},{"k":"c4","x":10.82,"z":-46.4},{"k":"c4","x":11.88,"z":-51.0},{"k":"c4","x":12.67,"z":-52.0},{"k":"c4","x":14.79,"z":-51.3},{"k":"c4","x":16.38,"z":-51.1},{"k":"c4","x":16.77,"z":-50.3},{"k":"c4","x":16.91,"z":-40.7},{"k":"c4","x":17.17,"z":-36.7},{"k":"c4","x":17.96,"z":-34.5},{"k":"c4","x":19.02,"z":-32.8},{"k":"c4","x":19.87,"z":-31.3},
{"k":"c6","x":0.11,"z":-31.2},{"k":"c6","x":0.77,"z":-33.7},{"k":"c6","x":1.56,"z":-35.8},{"k":"c6","x":2.36,"z":-37.8},{"k":"c6","x":3.42,"z":-38.6},{"k":"c6","x":4.21,"z":-39.2},{"k":"c6","x":5.0,"z":-40.9},{"k":"c6","x":5.8,"z":-43.5},{"k":"c6","x":6.59,"z":-45.6},{"k":"c6","x":7.38,"z":-46.8},{"k":"c6","x":8.18,"z":-47.4},{"k":"c6","x":8.71,"z":-47.8},{"k":"c6","x":9.24,"z":-49.3},{"k":"c6","x":9.5,"z":-48.4},{"k":"c6","x":9.9,"z":-46.6},{"k":"c6","x":10.29,"z":-48.4},{"k":"c6","x":11.09,"z":-49.6},{"k":"c6","x":11.88,"z":-51.6},{"k":"c6","x":12.67,"z":-52.3},{"k":"c6","x":14.79,"z":-51.7},{"k":"c6","x":16.38,"z":-51.5},{"k":"c6","x":16.77,"z":-50.6},{"k":"c6","x":16.96,"z":-44.0},{"k":"c6","x":17.3,"z":-39.0},{"k":"c6","x":18.23,"z":-36.2},{"k":"c6","x":19.29,"z":-33.0},{"k":"c6","x":19.87,"z":-31.6},
{"k":"c8","x":0.11,"z":-31.6},{"k":"c8","x":0.77,"z":-34.1},{"k":"c8","x":1.56,"z":-36.2},{"k":"c8","x":2.36,"z":-38.2},{"k":"c8","x":3.42,"z":-39.0},{"k":"c8","x":4.21,"z":-39.6},{"k":"c8","x":5.0,"z":-41.3},{"k":"c8","x":5.8,"z":-44.1},{"k":"c8","x":6.59,"z":-46.4},{"k":"c8","x":7.38,"z":-47.8},{"k":"c8","x":8.18,"z":-48.5},{"k":"c8","x":8.71,"z":-48.7},{"k":"c8","x":9.24,"z":-50.4},{"k":"c8","x":9.5,"z":-49.3},{"k":"c8","x":9.9,"z":-47.6},{"k":"c8","x":10.29,"z":-49.3},{"k":"c8","x":11.09,"z":-50.4},{"k":"c8","x":11.88,"z":-52.1},{"k":"c8","x":12.67,"z":-52.7},{"k":"c8","x":14.79,"z":-52.1},{"k":"c8","x":16.38,"z":-51.9},{"k":"c8","x":16.77,"z":-51.0},{"k":"c8","x":16.91,"z":-46.4},{"k":"c8","x":17.04,"z":-40.7},{"k":"c8","x":17.43,"z":-38.4},{"k":"c8","x":18.49,"z":-36.2},{"k":"c8","x":19.29,"z":-33.3},{"k":"c8","x":19.87,"z":-31.8},
{"k":"tw","x":16.43,"z":0},{"k":"tw","x":16.54,"z":-4.9},{"k":"tw","x":16.69,"z":0}
],
"pvbar":[{"lo":-7,"hi":-5,"b":"m7"},{"lo":-5,"hi":-3,"b":"m5"},{"lo":-3,"hi":-1,"b":"m3"},{"lo":-1,"hi":1,"b":"m1"},{"lo":1,"hi":3,"b":"p1"},{"lo":3,"hi":5,"b":"p3"},{"lo":5,"hi":7,"b":"p5"}],
"pvtri":[{"u":0,"v":7,"v2":7,"b":"over"},{"u":0.5,"v":7.65,"v2":7,"b":"over"},{"u":1,"v":7,"v2":7,"b":"over"},{"u":0,"v":-7,"v2":-7,"b":"under"},{"u":0.5,"v":-7.65,"v2":-7,"b":"under"},{"u":1,"v":-7,"v2":-7,"b":"under"}],
"pvout":[{"i":0,"u":0,"v":-7},{"i":1,"u":0,"v":7},{"i":2,"u":0.5,"v":7.65},{"i":3,"u":1,"v":7},{"i":4,"u":1,"v":-7},{"i":5,"u":0.5,"v":-7.65},{"i":6,"u":0,"v":-7}],
"thbar":[{"lo":0,"hi":2,"b":"a"},{"lo":2,"hi":4,"b":"b"},{"lo":4,"hi":6,"b":"c"},{"lo":6,"hi":8,"b":"d"}],
"thtri":[{"u":0,"v":8,"v2":8,"b":"over"},{"u":0.5,"v":8.42,"v2":8,"b":"over"},{"u":1,"v":8,"v2":8,"b":"over"},{"u":0,"v":0,"v2":0,"b":"under"},{"u":0.5,"v":-0.42,"v2":0,"b":"under"},{"u":1,"v":0,"v2":0,"b":"under"}],
"thout":[{"i":0,"u":0,"v":0},{"i":1,"u":0,"v":8},{"i":2,"u":0.5,"v":8.42},{"i":3,"u":1,"v":8},{"i":4,"u":1,"v":0},{"i":5,"u":0.5,"v":-0.42},{"i":6,"u":0,"v":0}]
},
"concat":[
  {"width":238,"height":222,"view":{"fill":"#f7f7f7"},
   "title":{"text":"(a) LES truth Vertical PV","orient":"bottom","anchor":"middle","frame":"group","dx":-6,"offset":27},
   "layer":[
    {"data":{"name":"A"},
     "encoding":{"x":{"field":"x","type":"quantitative","scale":{"domain":[0.29,19.23],"nice":false,"zero":false},"axis":{"orient":"bottom","values":[5,10,15],"title":"y/(km)"}},
                 "y":{"field":"z","type":"quantitative","scale":{"domain":[-80,-1.35],"nice":false,"zero":false},"axis":{"orient":"left","values":[-80,-60,-40,-20],"title":"z/m"}}},
     "layer":[
      {"transform":[{"filter":"datum.k=='c1'"}],"mark":{"type":"area","color":"#f9c4a9","clip":true},"encoding":{"y2":{"datum":-80}}},
      {"transform":[{"filter":"datum.k=='c3'"}],"mark":{"type":"area","color":"#da6a54","clip":true},"encoding":{"y2":{"datum":-80}}},
      {"transform":[{"filter":"datum.k=='c5'"}],"mark":{"type":"area","color":"#a11228","clip":true},"encoding":{"y2":{"datum":-80}}},
      {"transform":[{"filter":"datum.k=='c7'"}],"mark":{"type":"area","color":"#67001f","clip":true},"encoding":{"y2":{"datum":-80}}},
      {"transform":[{"filter":"datum.k=='t3'"}],"mark":{"type":"area","color":"#da6a54","clip":true},"encoding":{"y2":{"datum":0}}},
      {"transform":[{"filter":"datum.k=='t5'"}],"mark":{"type":"area","color":"#a11228","clip":true},"encoding":{"y2":{"datum":0}}},
      {"transform":[{"filter":"datum.k=='t7'"}],"mark":{"type":"area","color":"#67001f","clip":true},"encoding":{"y2":{"datum":0}}},
      {"transform":[{"filter":"datum.k=='tb1'"}],"mark":{"type":"area","color":"#b6d7e8","clip":true},"encoding":{"y2":{"datum":0}}},
      {"transform":[{"filter":"datum.k=='tb3'"}],"mark":{"type":"area","color":"#4e9ac7","clip":true},"encoding":{"y2":{"datum":0}}},
      {"transform":[{"filter":"datum.k=='tb5'"}],"mark":{"type":"area","color":"#1d5a9a","clip":true},"encoding":{"y2":{"datum":0}}}
     ]},
    {"data":{"name":"A"},"transform":[{"filter":"datum.k=='t7'"}],"mark":{"type":"rule","opacity":0},
     "encoding":{"x":{"field":"x","type":"quantitative","axis":{"orient":"top","title":"day = 012","labels":false,"ticks":false,"domain":false,"titleFontSize":22,"titlePadding":-1}}}}
   ]},
  {"width":173,"height":222,"view":{"stroke":null},
   "title":{"text":"1e−11","anchor":"start","align":"right","dx":13,"frame":"group","font":"DejaVu Sans","fontSize":18.5,"offset":-4},
   "layer":[
    {"data":{"name":"pvbar"},"mark":"rect","encoding":{
      "x":{"datum":0,"type":"quantitative","scale":{"domain":[-0.5833,13.8333],"nice":false,"zero":false},"axis":null},"x2":{"datum":1},
      "y":{"field":"lo","type":"quantitative","scale":{"domain":[-7.65,7.65],"nice":false,"zero":false},"axis":{"orient":"right","offset":-154,"values":[-7,-5,-3,-1,1,3,5,7],"title":null}},
      "y2":{"field":"hi"},
      "color":{"field":"b","type":"nominal","scale":{"domain":["under","m7","m5","m3","m1","p1","p3","p5","over"],"range":["#053061","#1d5a9a","#4e9ac7","#b6d7e8","#f7f7f7","#f9c4a9","#da6a54","#a11228","#67001f"]},"legend":null}}},
    {"data":{"name":"pvtri"},"mark":"area","encoding":{"x":{"field":"u","type":"quantitative","axis":null},"y":{"field":"v","type":"quantitative","axis":{"orient":"right","offset":-154,"values":[-7,-5,-3,-1,1,3,5,7],"title":null}},"y2":{"field":"v2"},"color":{"field":"b","type":"nominal","legend":null}}},
    {"data":{"name":"pvout"},"mark":{"type":"line","color":"#333","strokeWidth":0.8},"encoding":{"x":{"field":"u","type":"quantitative","axis":null},"y":{"field":"v","type":"quantitative","axis":{"orient":"right","offset":-154,"values":[-7,-5,-3,-1,1,3,5,7],"title":null}},"order":{"field":"i","type":"quantitative"}}}
   ]},
  {"width":238,"height":222,"view":{"fill":"#f7f7f7"},
   "title":{"text":"(b) MITgcm KPP Vertical PV","orient":"bottom","anchor":"middle","frame":"group","dx":-5,"offset":27},
   "data":{"name":"B"},
   "encoding":{"x":{"field":"x","type":"quantitative","scale":{"domain":[0.25,19.62],"nice":false,"zero":false},"axis":{"orient":"bottom","values":[5,10,15],"title":"y/(km)"}},
               "y":{"field":"z","type":"quantitative","scale":{"domain":[-80,-1.35],"nice":false,"zero":false},"axis":{"orient":"left","values":[-80,-60,-40,-20],"title":"z/m"}}},
   "layer":[
    {"transform":[{"filter":"datum.k=='c1'"}],"mark":{"type":"area","color":"#f9c4a9","clip":true},"encoding":{"y2":{"datum":-80}}},
    {"transform":[{"filter":"datum.k=='c3'"}],"mark":{"type":"area","color":"#da6a54","clip":true},"encoding":{"y2":{"datum":-80}}},
    {"transform":[{"filter":"datum.k=='c5'"}],"mark":{"type":"area","color":"#a11228","clip":true},"encoding":{"y2":{"datum":-80}}},
    {"transform":[{"filter":"datum.k=='c7'"}],"mark":{"type":"area","color":"#67001f","clip":true},"encoding":{"y2":{"datum":-80}}},
    {"transform":[{"filter":"datum.k=='L1'"}],"mark":{"type":"area","color":"#f9c4a9","clip":true},"encoding":{"y2":{"field":"z2"}}},
    {"transform":[{"filter":"datum.k=='W'"}],"mark":{"type":"area","color":"#f7f7f7","clip":true},"encoding":{"y2":{"field":"z2"}}},
    {"transform":[{"filter":"datum.k=='R3'"}],"mark":{"type":"area","color":"#da6a54","clip":true},"encoding":{"y2":{"field":"z2"}}},
    {"transform":[{"filter":"datum.k=='R7'"}],"mark":{"type":"area","color":"#67001f","clip":true},"encoding":{"y2":{"field":"z2"}}},
    {"transform":[{"filter":"datum.k=='W2'"}],"mark":{"type":"area","color":"#f7f7f7","clip":true},"encoding":{"y2":{"field":"z2"}}},
    {"transform":[{"filter":"datum.k=='t1'"}],"mark":{"type":"area","color":"#f9c4a9","clip":true},"encoding":{"y2":{"datum":0}}},
    {"transform":[{"filter":"datum.k=='t3'"}],"mark":{"type":"area","color":"#da6a54","clip":true},"encoding":{"y2":{"datum":0}}},
    {"transform":[{"filter":"datum.k=='t5'"}],"mark":{"type":"area","color":"#a11228","clip":true},"encoding":{"y2":{"datum":0}}},
    {"transform":[{"filter":"datum.k=='t7'"}],"mark":{"type":"area","color":"#67001f","clip":true},"encoding":{"y2":{"datum":0}}},
    {"transform":[{"filter":"datum.k=='tb1'"}],"mark":{"type":"area","color":"#b6d7e8","clip":true},"encoding":{"y2":{"datum":0}}},
    {"transform":[{"filter":"datum.k=='tb3'"}],"mark":{"type":"area","color":"#4e9ac7","clip":true},"encoding":{"y2":{"datum":0}}},
    {"transform":[{"filter":"datum.k=='tb5'"}],"mark":{"type":"area","color":"#1d5a9a","clip":true},"encoding":{"y2":{"datum":0}}}
   ]},
  {"width":172,"height":222,"view":{"stroke":null},
   "title":{"text":"1e−11","anchor":"start","align":"right","dx":11,"frame":"group","font":"DejaVu Sans","fontSize":18.5,"offset":-4},
   "layer":[
    {"data":{"name":"pvbar"},"mark":"rect","encoding":{
      "x":{"datum":0,"type":"quantitative","scale":{"domain":[-0.41667,13.91667],"nice":false,"zero":false},"axis":null},"x2":{"datum":1},
      "y":{"field":"lo","type":"quantitative","scale":{"domain":[-7.65,7.65],"nice":false,"zero":false},"axis":{"orient":"right","offset":-155,"values":[-7,-5,-3,-1,1,3,5,7],"title":null}},
      "y2":{"field":"hi"},
      "color":{"field":"b","type":"nominal","scale":{"domain":["under","m7","m5","m3","m1","p1","p3","p5","over"],"range":["#053061","#1d5a9a","#4e9ac7","#b6d7e8","#f7f7f7","#f9c4a9","#da6a54","#a11228","#67001f"]},"legend":null}}},
    {"data":{"name":"pvtri"},"mark":"area","encoding":{"x":{"field":"u","type":"quantitative","axis":null},"y":{"field":"v","type":"quantitative","axis":{"orient":"right","offset":-155,"values":[-7,-5,-3,-1,1,3,5,7],"title":null}},"y2":{"field":"v2"},"color":{"field":"b","type":"nominal","legend":null}}},
    {"data":{"name":"pvout"},"mark":{"type":"line","color":"#333","strokeWidth":0.8},"encoding":{"x":{"field":"u","type":"quantitative","axis":null},"y":{"field":"v","type":"quantitative","axis":{"orient":"right","offset":-155,"values":[-7,-5,-3,-1,1,3,5,7],"title":null}},"order":{"field":"i","type":"quantitative"}}}
   ]},
  {"width":238,"height":222,"view":{"fill":"#f7f7f7"},
   "title":{"text":"(c) MITgcm SI Vertical PV","orient":"bottom","anchor":"middle","frame":"group","dx":3,"offset":27},
   "data":{"name":"C"},
   "encoding":{"x":{"field":"x","type":"quantitative","scale":{"domain":[0.25,19.62],"nice":false,"zero":false},"axis":{"orient":"bottom","values":[5,10,15],"title":"y/(km)"}},
               "y":{"field":"z","type":"quantitative","scale":{"domain":[-80,-1.35],"nice":false,"zero":false},"axis":{"orient":"left","values":[-80,-60,-40,-20],"title":"z/m"}}},
   "layer":[
    {"transform":[{"filter":"datum.k=='c1'"}],"mark":{"type":"area","color":"#f9c4a9","clip":true},"encoding":{"y2":{"datum":-80}}},
    {"transform":[{"filter":"datum.k=='c3'"}],"mark":{"type":"area","color":"#da6a54","clip":true},"encoding":{"y2":{"datum":-80}}},
    {"transform":[{"filter":"datum.k=='c5'"}],"mark":{"type":"area","color":"#a11228","clip":true},"encoding":{"y2":{"datum":-80}}},
    {"transform":[{"filter":"datum.k=='c7'"}],"mark":{"type":"area","color":"#67001f","clip":true},"encoding":{"y2":{"datum":-80}}},
    {"transform":[{"filter":"datum.k=='L1'"}],"mark":{"type":"area","color":"#f9c4a9","clip":true},"encoding":{"y2":{"field":"z2"}}},
    {"transform":[{"filter":"datum.k=='W'"}],"mark":{"type":"area","color":"#f7f7f7","clip":true},"encoding":{"y2":{"field":"z2"}}},
    {"transform":[{"filter":"datum.k=='R3'"}],"mark":{"type":"area","color":"#da6a54","clip":true},"encoding":{"y2":{"field":"z2"}}},
    {"transform":[{"filter":"datum.k=='R7'"}],"mark":{"type":"area","color":"#67001f","clip":true},"encoding":{"y2":{"field":"z2"}}},
    {"transform":[{"filter":"datum.k=='W2'"}],"mark":{"type":"area","color":"#f7f7f7","clip":true},"encoding":{"y2":{"field":"z2"}}},
    {"transform":[{"filter":"datum.k=='t3'"}],"mark":{"type":"area","color":"#da6a54","clip":true},"encoding":{"y2":{"datum":0}}},
    {"transform":[{"filter":"datum.k=='t5'"}],"mark":{"type":"area","color":"#a11228","clip":true},"encoding":{"y2":{"datum":0}}},
    {"transform":[{"filter":"datum.k=='t7'"}],"mark":{"type":"area","color":"#67001f","clip":true},"encoding":{"y2":{"datum":0}}},
    {"transform":[{"filter":"datum.k=='tb1'"}],"mark":{"type":"area","color":"#b6d7e8","clip":true},"encoding":{"y2":{"datum":0}}},
    {"transform":[{"filter":"datum.k=='tb3'"}],"mark":{"type":"area","color":"#4e9ac7","clip":true},"encoding":{"y2":{"datum":0}}},
    {"transform":[{"filter":"datum.k=='tb5'"}],"mark":{"type":"area","color":"#1d5a9a","clip":true},"encoding":{"y2":{"datum":0}}}
   ]},
  {"width":30,"height":222,"view":{"stroke":null},
   "title":{"text":"1e−11","anchor":"start","align":"right","dx":9,"frame":"group","font":"DejaVu Sans","fontSize":18.5,"offset":-4},
   "layer":[
    {"data":{"name":"pvbar"},"mark":"rect","encoding":{
      "x":{"datum":0,"type":"quantitative","scale":{"domain":[-0.25,2.25],"nice":false,"zero":false},"axis":null},"x2":{"datum":1},
      "y":{"field":"lo","type":"quantitative","scale":{"domain":[-7.65,7.65],"nice":false,"zero":false},"axis":{"orient":"right","offset":-15,"values":[-7,-5,-3,-1,1,3,5,7],"title":null}},
      "y2":{"field":"hi"},
      "color":{"field":"b","type":"nominal","scale":{"domain":["under","m7","m5","m3","m1","p1","p3","p5","over"],"range":["#053061","#1d5a9a","#4e9ac7","#b6d7e8","#f7f7f7","#f9c4a9","#da6a54","#a11228","#67001f"]},"legend":null}}},
    {"data":{"name":"pvtri"},"mark":"area","encoding":{"x":{"field":"u","type":"quantitative","axis":null},"y":{"field":"v","type":"quantitative","axis":{"orient":"right","offset":-15,"values":[-7,-5,-3,-1,1,3,5,7],"title":null}},"y2":{"field":"v2"},"color":{"field":"b","type":"nominal","legend":null}}},
    {"data":{"name":"pvout"},"mark":{"type":"line","color":"#333","strokeWidth":0.8},"encoding":{"x":{"field":"u","type":"quantitative","axis":null},"y":{"field":"v","type":"quantitative","axis":{"orient":"right","offset":-15,"values":[-7,-5,-3,-1,1,3,5,7],"title":null}},"order":{"field":"i","type":"quantitative"}}}
   ]},
  {"width":250,"height":232,"view":{"fill":"#dddcec"},
   "title":{"text":["(d)\u00a0\u00a0 LES\u00a0\u00a0 truth\u00a0\u00a0 Δθ = θ(y,0) −","θ(y,z)."],"orient":"bottom","anchor":"start","align":"left","frame":"group","dx":-70,"offset":29,"lineHeight":32},
   "layer":[
    {"data":{"name":"D"},
     "encoding":{"x":{"field":"x","type":"quantitative","scale":{"domain":[0.13,19.66],"nice":false,"zero":false},"axis":{"orient":"bottom","values":[5,10,15],"title":"x/(km)"}},
                 "y":{"field":"z","type":"quantitative","scale":{"domain":[-80,-0.87],"nice":false,"zero":false},"axis":{"orient":"left","values":[-80,-60,-40,-20],"title":"z/m"}}},
     "layer":[
      {"transform":[{"filter":"datum.k=='c2'"}],"mark":{"type":"area","color":"#b5b2d7","clip":true},"encoding":{"y2":{"datum":-80}}},
      {"transform":[{"filter":"datum.k=='c4'"}],"mark":{"type":"area","color":"#8d88c0","clip":true},"encoding":{"y2":{"datum":-80}}},
      {"transform":[{"filter":"datum.k=='c6'"}],"mark":{"type":"area","color":"#6a51a3","clip":true},"encoding":{"y2":{"datum":-80}}},
      {"transform":[{"filter":"datum.k=='c8'"}],"mark":{"type":"area","color":"#54278f","clip":true},"encoding":{"y2":{"datum":-80}}}
     ]},
    {"data":{"name":"D"},"transform":[{"filter":"datum.k=='c8' && datum.x < 1"}],"mark":{"type":"rule","opacity":0},
     "encoding":{"x":{"field":"x","type":"quantitative","axis":{"orient":"top","title":"day = 012","labels":false,"ticks":false,"domain":false,"titleFontSize":22,"titlePadding":-1}}}}
   ]},
  {"width":173,"height":232,"view":{"stroke":null},
   "title":{"text":"1e−3","anchor":"start","align":"right","dx":25,"frame":"group","font":"DejaVu Sans","fontSize":18.5,"offset":-5},
   "layer":[
    {"data":{"name":"thbar"},"mark":"rect","encoding":{
      "x":{"datum":0,"type":"quantitative","scale":{"domain":[-1.25,13.1667],"nice":false,"zero":false},"axis":null},"x2":{"datum":1},
      "y":{"field":"lo","type":"quantitative","scale":{"domain":[-0.42,8.42],"nice":false,"zero":false},"axis":{"orient":"right","offset":-146,"values":[0,2,4,6,8],"title":null}},
      "y2":{"field":"hi"},
      "color":{"field":"b","type":"nominal","scale":{"domain":["under","a","b","c","d","over"],"range":["#fcfbfd","#dddcec","#b5b2d7","#8d88c0","#6a51a3","#54278f"]},"legend":null}}},
    {"data":{"name":"thtri"},"mark":"area","encoding":{"x":{"field":"u","type":"quantitative","axis":null},"y":{"field":"v","type":"quantitative","axis":{"orient":"right","offset":-146,"values":[0,2,4,6,8],"title":null}},"y2":{"field":"v2"},"color":{"field":"b","type":"nominal","legend":null}}},
    {"data":{"name":"thout"},"mark":{"type":"line","color":"#333","strokeWidth":0.8},"encoding":{"x":{"field":"u","type":"quantitative","axis":null},"y":{"field":"v","type":"quantitative","axis":{"orient":"right","offset":-146,"values":[0,2,4,6,8],"title":null}},"order":{"field":"i","type":"quantitative"}}}
   ]},
  {"width":250,"height":232,"view":{"fill":"#dddcec"},
   "title":{"text":"(e) MITgcm KPP Δθ","orient":"bottom","anchor":"middle","frame":"group","dx":-15,"offset":29},
   "data":{"name":"E"},
   "encoding":{"x":{"field":"x","type":"quantitative","scale":{"domain":[0.07,19.9],"nice":false,"zero":false},"axis":{"orient":"bottom","values":[5,10,15],"title":"y/(km)"}},
               "y":{"field":"z","type":"quantitative","scale":{"domain":[-80,-0.87],"nice":false,"zero":false},"axis":{"orient":"left","values":[-80,-60,-40,-20],"title":"z/m"}}},
   "layer":[
    {"transform":[{"filter":"datum.k=='c2'"}],"mark":{"type":"area","color":"#b5b2d7","clip":true},"encoding":{"y2":{"datum":-80}}},
    {"transform":[{"filter":"datum.k=='c4'"}],"mark":{"type":"area","color":"#8d88c0","clip":true},"encoding":{"y2":{"datum":-80}}},
    {"transform":[{"filter":"datum.k=='c6'"}],"mark":{"type":"area","color":"#6a51a3","clip":true},"encoding":{"y2":{"datum":-80}}},
    {"transform":[{"filter":"datum.k=='c8'"}],"mark":{"type":"area","color":"#54278f","clip":true},"encoding":{"y2":{"datum":-80}}},
    {"transform":[{"filter":"datum.k=='tw'"}],"mark":{"type":"area","color":"#fcfbfd","clip":true},"encoding":{"y2":{"datum":0}}}
   ]},
  {"width":172,"height":232,"view":{"stroke":null},
   "title":{"text":"1e−3","anchor":"start","align":"right","dx":25,"frame":"group","font":"DejaVu Sans","fontSize":18.5,"offset":-5},
   "layer":[
    {"data":{"name":"thbar"},"mark":"rect","encoding":{
      "x":{"datum":0,"type":"quantitative","scale":{"domain":[-1.25,13.0833],"nice":false,"zero":false},"axis":null},"x2":{"datum":1},
      "y":{"field":"lo","type":"quantitative","scale":{"domain":[-0.42,8.42],"nice":false,"zero":false},"axis":{"orient":"right","offset":-145,"values":[0,2,4,6,8],"title":null}},
      "y2":{"field":"hi"},
      "color":{"field":"b","type":"nominal","scale":{"domain":["under","a","b","c","d","over"],"range":["#fcfbfd","#dddcec","#b5b2d7","#8d88c0","#6a51a3","#54278f"]},"legend":null}}},
    {"data":{"name":"thtri"},"mark":"area","encoding":{"x":{"field":"u","type":"quantitative","axis":null},"y":{"field":"v","type":"quantitative","axis":{"orient":"right","offset":-145,"values":[0,2,4,6,8],"title":null}},"y2":{"field":"v2"},"color":{"field":"b","type":"nominal","legend":null}}},
    {"data":{"name":"thout"},"mark":{"type":"line","color":"#333","strokeWidth":0.8},"encoding":{"x":{"field":"u","type":"quantitative","axis":null},"y":{"field":"v","type":"quantitative","axis":{"orient":"right","offset":-145,"values":[0,2,4,6,8],"title":null}},"order":{"field":"i","type":"quantitative"}}}
   ]},
  {"width":250,"height":232,"view":{"fill":"#dddcec"},
   "title":{"text":"(f) MITgcm SI Δθ","orient":"bottom","anchor":"middle","frame":"group","dx":-14,"offset":29},
   "data":{"name":"F"},
   "encoding":{"x":{"field":"x","type":"quantitative","scale":{"domain":[0.11,19.87],"nice":false,"zero":false},"axis":{"orient":"bottom","values":[5,10,15],"title":"y/(km)"}},
               "y":{"field":"z","type":"quantitative","scale":{"domain":[-80,-0.87],"nice":false,"zero":false},"axis":{"orient":"left","values":[-80,-60,-40,-20],"title":"z/m"}}},
   "layer":[
    {"transform":[{"filter":"datum.k=='c2'"}],"mark":{"type":"area","color":"#b5b2d7","clip":true},"encoding":{"y2":{"datum":-80}}},
    {"transform":[{"filter":"datum.k=='c4'"}],"mark":{"type":"area","color":"#8d88c0","clip":true},"encoding":{"y2":{"datum":-80}}},
    {"transform":[{"filter":"datum.k=='c6'"}],"mark":{"type":"area","color":"#6a51a3","clip":true},"encoding":{"y2":{"datum":-80}}},
    {"transform":[{"filter":"datum.k=='c8'"}],"mark":{"type":"area","color":"#54278f","clip":true},"encoding":{"y2":{"datum":-80}}},
    {"transform":[{"filter":"datum.k=='tw'"}],"mark":{"type":"area","color":"#fcfbfd","clip":true},"encoding":{"y2":{"datum":0}}}
   ]},
  {"width":30,"height":232,"view":{"stroke":null},
   "title":{"text":"1e−3","anchor":"start","align":"right","dx":26,"frame":"group","font":"DejaVu Sans","fontSize":18.5,"offset":-5},
   "layer":[
    {"data":{"name":"thbar"},"mark":"rect","encoding":{
      "x":{"datum":0,"type":"quantitative","scale":{"domain":[-1.3333,1.1667],"nice":false,"zero":false},"axis":null},"x2":{"datum":1},
      "y":{"field":"lo","type":"quantitative","scale":{"domain":[-0.42,8.42],"nice":false,"zero":false},"axis":{"orient":"right","offset":-2,"values":[0,2,4,6,8],"title":null}},
      "y2":{"field":"hi"},
      "color":{"field":"b","type":"nominal","scale":{"domain":["under","a","b","c","d","over"],"range":["#fcfbfd","#dddcec","#b5b2d7","#8d88c0","#6a51a3","#54278f"]},"legend":null}}},
    {"data":{"name":"thtri"},"mark":"area","encoding":{"x":{"field":"u","type":"quantitative","axis":null},"y":{"field":"v","type":"quantitative","axis":{"orient":"right","offset":-2,"values":[0,2,4,6,8],"title":null}},"y2":{"field":"v2"},"color":{"field":"b","type":"nominal","legend":null}}},
    {"data":{"name":"thout"},"mark":{"type":"line","color":"#333","strokeWidth":0.8},"encoding":{"x":{"field":"u","type":"quantitative","axis":null},"y":{"field":"v","type":"quantitative","axis":{"orient":"right","offset":-2,"values":[0,2,4,6,8],"title":null}},"order":{"field":"i","type":"quantitative"}}}
   ]}
],
"columns":6,
"spacing":{"row":134,"column":0},
"bounds":"flush",
"align":"none",
"resolve":{"scale":{"color":"independent"}},
"config":{
 "view":{"stroke":"#222","strokeWidth":1.5},
 "axis":{"labelFont":"DejaVu Sans","labelFontSize":18.5,"labelColor":"black","titleFont":"DejaVu Sans","titleFontSize":18.5,"titleFontWeight":"normal","titleColor":"black","tickColor":"black","tickSize":3.5,"tickWidth":0.9,"domain":false,"grid":false,"labelPadding":0,"labelFlush":false},
 "axisX":{"titlePadding":1},
 "axisY":{"titlePadding":6},
 "title":{"font":"Liberation Serif","fontSize":29.5,"fontWeight":"normal","color":"black"}
}
}
